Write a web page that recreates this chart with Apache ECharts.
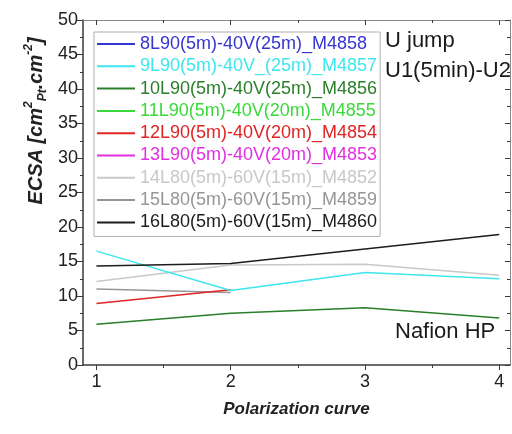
<!DOCTYPE html>
<html>
<head>
<meta charset="utf-8">
<script src="https://cdn.jsdelivr.net/npm/echarts@6/dist/echarts.min.js"></script>
<style>
  html, body { margin: 0; padding: 0; background: #fff; }
  #chart { width: 512px; height: 434px; }
</style>
</head>
<body>
<div id="chart"></div>
<script>
const xValues = [1, 2, 3, 4];
const seriesNames = [
  "8L90(5m)-40V(25m)_M4858",
  "9L90(5m)-40V_(25m)_M4857",
  "10L90(5m)-40V(25m)_M4856",
  "11L90(5m)-40V(20m)_M4855",
  "12L90(5m)-40V(20m)_M4854",
  "13L90(5m)-40V(20m)_M4853",
  "14L80(5m)-60V(15m)_M4852",
  "15L80(5m)-60V(15m)_M4859",
  "16L80(5m)-60V(15m)_M4860",
];
const seriesColors = [
  "#3535d0", "#3ee6ee", "#2a7f2a", "#3ad83a", "#e02424",
  "#e030e0", "#c8c8c8", "#969696", "#1c1c1c",
];
const values8 = [null, null, null, null];
const values9 = [16.5, 10.8, 13.4, 12.5];
const values10 = [5.9, 7.5, 8.3, 6.8];
const values11 = [null, null, null, null];
const values12 = [8.9, 10.9, null, null];
const values13 = [null, null, null, null];
const values14 = [12.1, 14.5, 14.6, 13.0];
const values15 = [11.0, 10.5, null, null];
const values16 = [14.35, 14.7, 16.8, 18.9];
const allValues = [values8, values9, values10, values11, values12, values13, values14, values15, values16];
const xTicks = [1, 2, 3, 4];
const xMinorTicks = [1.5, 2.5, 3.5];

const chart = echarts.init(document.getElementById("chart"));
const font = "Liberation Sans";

// draw order: light lines first so the darker ones sit on top
const drawOrder = [6, 7, 4, 2, 1, 0, 3, 5, 8];

const series = drawOrder.map((i) => ({
  name: seriesNames[i],
  type: "line",
  symbol: "none",
  lineStyle: { width: 1.5, color: seriesColors[i] },
  itemStyle: { color: seriesColors[i] },
  data: xValues.map((x, k) => [x, allValues[i][k]]).filter((p) => p[1] !== null),
}));

const axisCol = "#3a3a3a";
const frameCol = "#888";

chart.setOption({
  animation: false,
  grid: { left: 83, right: 2, top: 20, bottom: 69 },
  legend: {
    left: 94,
    top: 32,
    orient: "vertical",
    backgroundColor: "#fff",
    borderColor: "#b0b0b0",
    borderWidth: 1,
    padding: [3, 3, 5, 3],
    itemGap: 4.3,
    icon: "rect",
    itemWidth: 38,
    itemHeight: 2,
    itemTextGap: 7,
    textStyle: { fontFamily: font, fontSize: 18, lineHeight: 18 },
    data: seriesNames.map((n, i) => ({ name: n, textStyle: { color: seriesColors[i] } })),
  },
  xAxis: [
    {
      type: "value", position: "bottom", min: 0.9, max: 4.08,
      axisLine: { lineStyle: { color: axisCol, width: 1.5 } },
      axisTick: { customValues: xTicks, length: 5, lineStyle: { color: axisCol } },
      axisLabel: { customValues: xTicks, fontFamily: font, fontSize: 18, color: "#222", margin: 8 },
      splitLine: { show: false },
      name: "Polarization curve",
      nameLocation: "middle",
      nameGap: 36,
      nameTextStyle: { fontFamily: font, fontSize: 17, fontWeight: "bold", fontStyle: "italic", color: "#222" },
    },
    {
      type: "value", position: "bottom", min: 0.9, max: 4.08,
      axisLine: { show: false },
      axisTick: { customValues: xMinorTicks, length: 3, lineStyle: { color: axisCol } },
      axisLabel: { show: false },
      splitLine: { show: false },
    },
    {
      type: "value", position: "top", min: 0.9, max: 4.08,
      axisLine: { lineStyle: { color: frameCol, width: 1 } },
      axisTick: { customValues: xTicks, inside: true, length: 5, lineStyle: { color: axisCol } },
      axisLabel: { show: false },
      splitLine: { show: false },
    },
    {
      type: "value", position: "top", min: 0.9, max: 4.08,
      axisLine: { show: false },
      axisTick: { customValues: xMinorTicks, inside: true, length: 3, lineStyle: { color: axisCol } },
      axisLabel: { show: false },
      splitLine: { show: false },
    },
  ],
  yAxis: [
    {
      type: "value", position: "left", min: 0, max: 50, interval: 5,
      axisLine: { show: true, lineStyle: { color: axisCol, width: 1.5 } },
      axisTick: { show: true, length: 6, lineStyle: { color: axisCol } },
      minorTick: { show: true, splitNumber: 2, length: 3, lineStyle: { color: axisCol } },
      axisLabel: { fontFamily: font, fontSize: 18, color: "#222", margin: 5 },
      splitLine: { show: false },
    },
    {
      type: "value", position: "right", min: 0, max: 50, interval: 5,
      axisLine: { show: true, lineStyle: { color: frameCol, width: 1 } },
      axisTick: { show: true, inside: true, length: 5, lineStyle: { color: axisCol } },
      minorTick: { show: true, splitNumber: 2, length: 3, lineStyle: { color: axisCol } },
      axisLabel: { show: false },
      splitLine: { show: false },
    },
  ],
  graphic: [
    {
      type: "text", x: 36, y: 121, rotation: Math.PI / 2,
      style: {
        text: "{b|ECSA [cm}{sup|2}{sub|Pt}{b|.cm}{sup|-2}{b|]}",
        align: "center", verticalAlign: "middle",
        rich: {
          b: { fontFamily: font, fontSize: 20, fontWeight: "bold", fontStyle: "italic", fill: "#222", lineHeight: 26 },
          sup: { fontFamily: font, fontSize: 12, fontWeight: "bold", fontStyle: "italic", fill: "#222", verticalAlign: "top", lineHeight: 26 },
          sub: { fontFamily: font, fontSize: 12, fontWeight: "bold", fontStyle: "italic", fill: "#222", verticalAlign: "bottom", lineHeight: 26 },
        },
      },
    },
    { type: "text", left: 385, top: 30, z: 10, style: { text: "U jump", fontFamily: font, fontSize: 22, fill: "#1a1a1a" } },
    { type: "text", left: 385, top: 60, z: 10, style: { text: "U1(5min)-U2", fontFamily: font, fontSize: 22, fill: "#1a1a1a" } },
    { type: "text", left: 395, top: 321, style: { text: "Nafion HP", fontFamily: font, fontSize: 22, fill: "#1a1a1a" } },
  ],
  series: series,
});
</script>
</body>
</html>
